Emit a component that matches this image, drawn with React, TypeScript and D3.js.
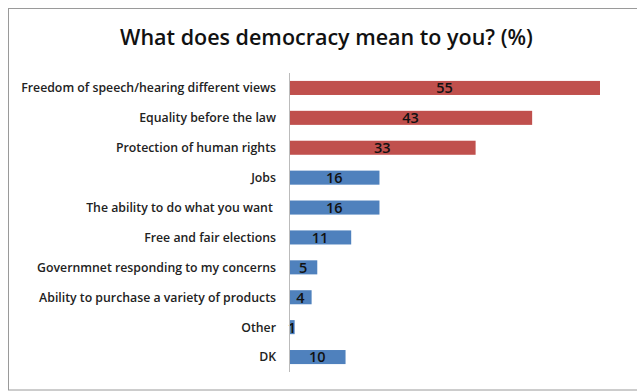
import React from "react";
import * as d3 from "d3";

const categories = [
  "Freedom of speech/hearing different views",
  "Equality before the law",
  "Protection of human rights",
  "Jobs",
  "The ability to do what you want ",
  "Free and fair elections",
  "Governmnet responding to my concerns",
  "Ability to purchase a variety of products",
  "Other",
  "DK",
];
const values = [55, 43, 33, 16, 16, 11, 5, 4, 1, 10];
const highlighted = [true, true, true, false, false, false, false, false, false, false];
const title = "What does democracy mean to you? (%)";

const W = 637;
const H = 391;

export default function App() {
  const x = d3.scaleLinear().domain([0, 55]).range([289, 600]);
  const y = d3
    .scaleBand<string>()
    .domain(categories)
    .range([73, 372])
    .paddingInner(0.53)
    .paddingOuter(0.265);
  const font = "'Open Sans', sans-serif";
  return (
    <div style={{ position: "absolute", left: 0, top: 0 }}>
      <svg width={W} height={H} style={{ display: "block" }}>
        <rect x={0} y={0} width={W} height={H} fill="#fff" />
        <rect x={8.5} y={8.5} width={W} height={381.5} fill="none" stroke="#9a9a9a" strokeWidth={1} />
        <text
          x={326.5}
          y={44.5}
          textAnchor="middle"
          fontFamily={font}
          fontSize={21.5}
          fontWeight={600}
          fill="#111"
        >
          {title}
        </text>
        {categories.map((c, i) => {
          const yy = y(c)!;
          const bw = y.bandwidth();
          const fill = highlighted[i] ? "#c0504d" : "#4f81bd";
          return (
            <g key={c}>
              <rect x={x(0)} y={yy} width={x(values[i]) - x(0)} height={bw} fill={fill} />
              <text
                x={(x(0) + x(values[i])) / 2}
                y={yy + bw / 2}
                dy="0.37em"
                textAnchor="middle"
                fontFamily={font}
                fontSize={14.5}
                fontWeight={600}
                fill="#111"
              >
                {values[i]}
              </text>
              <text
                x={276}
                y={yy + bw / 2}
                dy="0.36em"
                textAnchor="end"
                fontFamily={font}
                fontSize={12.3}
                fontWeight={600}
                fill="#222"
                style={{ whiteSpace: "pre" }}
              >
                {c}
              </text>
            </g>
          );
        })}
        <line x1={289.5} x2={289.5} y1={73} y2={372} stroke="#bbb" strokeWidth={1} />
      </svg>
    </div>
  );
}
